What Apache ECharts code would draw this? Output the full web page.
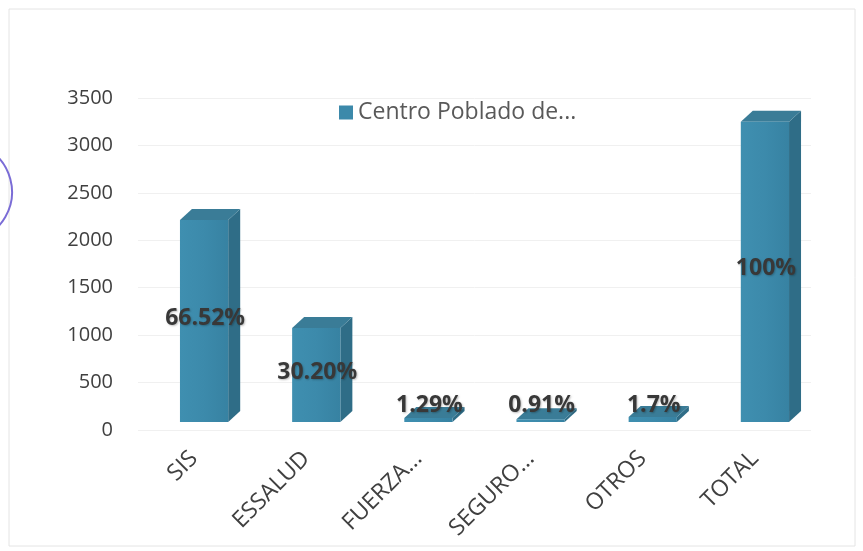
<!DOCTYPE html>
<html>
<head>
<meta charset="utf-8">
<script src="https://cdn.jsdelivr.net/npm/echarts@6/dist/echarts.min.js"></script>
<style>
html,body{margin:0;padding:0;background:#fff;}
#chart{width:863px;height:551px;}
</style>
</head>
<body>
<div id="chart"></div>
<script>
// Data
const categories = ['SIS', 'ESSALUD', 'FUERZA...', 'SEGURO...', 'OTROS', 'TOTAL'];
const values = [2130, 990, 41, 29, 54, 3165];
const pctLabels = ['66.52%', '30.20%', '1.29%', '0.91%', '1.7%', '100%'];
const seriesName = 'Centro Poblado de...';
const yTicks = { min: 0, max: 3500, interval: 500 };

const FRONT = '#3c89aa';
const SIDE = '#2f6d87';
const TOP = '#3a7c97';
const DX = 12, DY = 11, OFF = 10, LIFT = 8;

const chart = echarts.init(document.getElementById('chart'));

const option = {
  backgroundColor: '#ffffff',
  animation: false,
  grid: { left: 138, right: 52, top: 98, bottom: 121 },
  legend: {
    data: [{ name: seriesName, icon: 'rect' }],
    left: 334, top: 96,
    itemWidth: 14, itemHeight: 14, itemGap: 6,
    textStyle: { fontFamily: 'Open Sans', fontSize: 23, color: '#595959' }
  },
  xAxis: {
    type: 'category',
    data: categories,
    axisLine: { show: false },
    axisTick: { show: false },
    axisLabel: {
      rotate: 45, margin: 25, interval: 0,
      fontFamily: 'Open Sans', fontSize: 23, color: '#404040'
    }
  },
  yAxis: {
    type: 'value',
    min: yTicks.min, max: yTicks.max, interval: yTicks.interval,
    axisLine: { show: false },
    axisTick: { show: false },
    axisLabel: { margin: 25, fontFamily: 'Open Sans', fontSize: 20, color: '#404040', formatter: v => String(v) },
    splitLine: { lineStyle: { color: '#f0f0f0', width: 1 } }
  },
  graphic: [
    { type: 'rect', shape: { x: 9, y: 9, width: 846, height: 537 }, style: { fill: 'none', stroke: '#e4e4e4', lineWidth: 1 }, z: -1 },
    { type: 'arc', shape: { cx: -38, cy: 192, r: 50, startAngle: -Math.PI / 3, endAngle: Math.PI / 3 }, style: { stroke: '#7a6cd6', lineWidth: 2, fill: 'none' } }
  ],
  series: [{
    name: seriesName,
    type: 'custom',
    color: FRONT,
    data: values.map((v, i) => [i, v]),
    encode: { x: 0, y: 1 },
    renderItem: function (params, api) {
      const idx = params.dataIndex;
      const base = api.coord([api.value(0), 0]);
      const topPt = api.coord([api.value(0), api.value(1)]);
      const w = api.size([1, 0])[0] * 0.43;
      const cx = base[0] + OFF;
      const y0 = base[1] - LIFT;
      const y1 = topPt[1] - LIFT;
      const xl = cx - w / 2, xr = cx + w / 2;
      const mid = Math.min((y0 + y1) / 2 - 3, y0 - 17);
      return {
        type: 'group',
        children: [
          { type: 'polygon', shape: { points: [[xr, y1], [xr + DX, y1 - DY], [xr + DX, y0 - DY], [xr, y0]] }, style: { fill: SIDE } },
          { type: 'polygon', shape: { points: [[xl, y1], [xr, y1], [xr + DX, y1 - DY], [xl + DX, y1 - DY]] }, style: { fill: TOP } },
          { type: 'rect', shape: { x: xl, y: y1, width: w, height: Math.max(y0 - y1, 0) },
            style: { fill: new echarts.graphic.LinearGradient(0, 0, 1, 0, [
              { offset: 0, color: '#3f8fb0' }, { offset: 0.5, color: '#3c8aab' }, { offset: 1, color: '#3782a2' }]) } },
          { type: 'text', z2: 10, style: {
              text: pctLabels[idx], x: cx + 1, y: mid,
              align: 'center', verticalAlign: 'middle',
              fontFamily: 'Open Sans', fontWeight: 'bold', fontSize: 23, fill: '#383838',
              textShadowColor: 'rgba(0,0,0,0.25)', textShadowBlur: 2, textShadowOffsetX: 1, textShadowOffsetY: 1
          } }
        ]
      };
    }
  }]
};
chart.setOption(option);
</script>
</body>
</html>
